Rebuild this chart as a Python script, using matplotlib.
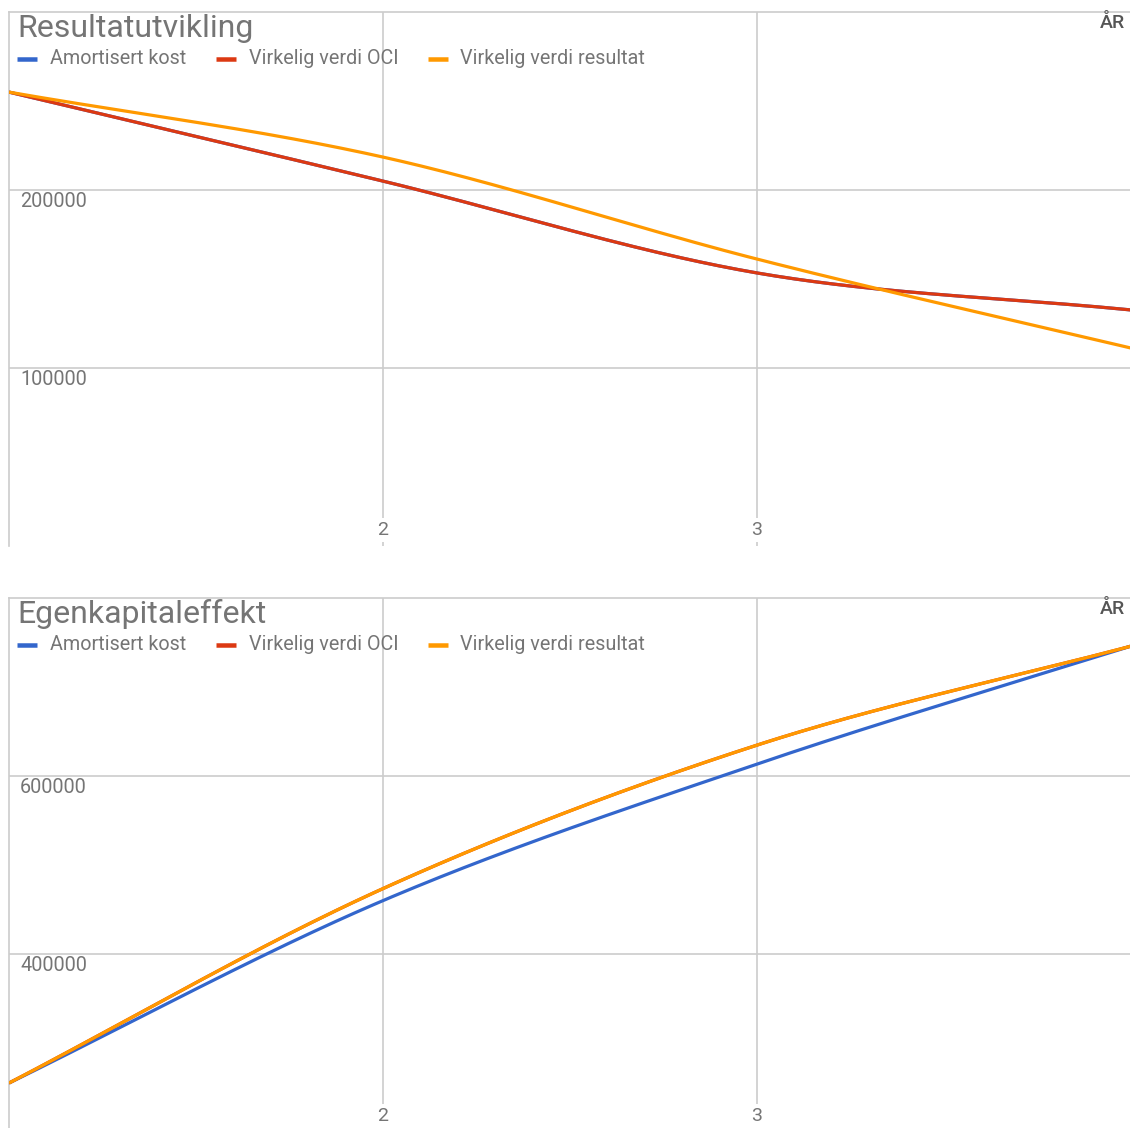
import numpy as np
import matplotlib.pyplot as plt
from matplotlib.transforms import offset_copy

plt.rcParams['font.family'] = ['Roboto', 'DejaVu Sans']

# år på x-aksen
years = [1, 2, 3, 4]
series_names = ['Amortisert kost', 'Virkelig verdi OCI', 'Virkelig verdi resultat']
series_colors = ['#3366cc', '#dc3912', '#ff9900']

# resultatutvikling per år
resultat_amortisert = [255000, 205000, 153400, 132600]
resultat_oci = [255000, 205000, 153400, 132600]
resultat_virkelig = [255000, 218500, 161200, 111200]

# egenkapitaleffekt per år
egenkapital_amortisert = [255000, 460000, 613400, 746000]
egenkapital_oci = [255000, 473500, 634700, 745900]
egenkapital_virkelig = [255000, 473500, 634700, 745900]

GRID = '#cccccc'
TEXT = '#757575'
DPI = 100
W, H = 1130, 1128


def px(v):
    # pixels -> points
    return v * 72.0 / DPI


def smooth(xs, ys, n=80):
    '''
    Hermite curve through the points, tangents from neighbouring points.
    '''
    xs = np.asarray(xs, float)
    ys = np.asarray(ys, float)
    m = np.gradient(ys, xs)
    out_x, out_y = [], []
    for i in range(len(xs) - 1):
        t = np.linspace(0, 1, n)
        dx = xs[i + 1] - xs[i]
        h00 = 2 * t**3 - 3 * t**2 + 1
        h10 = t**3 - 2 * t**2 + t
        h01 = -2 * t**3 + 3 * t**2
        h11 = t**3 - t**2
        out_x.append(xs[i] + t * dx)
        out_y.append(h00 * ys[i] + h10 * dx * m[i] + h01 * ys[i + 1] + h11 * dx * m[i + 1])
    return np.concatenate(out_x), np.concatenate(out_y)


def draw_panel(fig, rect, title, series, ylim, ygrid):
    ax = fig.add_axes(rect)
    ax.set_xlim(1, 4)
    ax.set_ylim(*ylim)
    ax.set_xticks([])
    ax.set_yticks([])
    for side in ['right', 'bottom']:
        ax.spines[side].set_visible(False)
    for side in ['left', 'top']:
        ax.spines[side].set_color(GRID)
        ax.spines[side].set_linewidth(1.2)

    # gridlines
    for v in ygrid:
        ax.axhline(v, color=GRID, lw=1.2, zorder=0)
    for x in [2, 3]:
        ax.axvline(x, color=GRID, lw=1.2, zorder=0)

    # lines, drawn in series order
    for vals, color in zip(series, series_colors):
        sx, sy = smooth(years, vals)
        ax.plot(sx, sy, color=color, lw=px(3.2), solid_capstyle='butt', zorder=3)

    # y labels sit just under their gridline
    for v in ygrid:
        ax.annotate(str(v), xy=(0, v), xycoords=('axes fraction', 'data'),
                    xytext=(px(11), px(-2)), textcoords='offset points',
                    ha='left', va='top', fontsize=14.3, color=TEXT, zorder=4)

    # x labels inside the plot near the bottom edge
    for x in [2, 3]:
        ax.annotate(str(x), xy=(x, 0), xycoords=('data', 'axes fraction'),
                    xytext=(0, px(16)), textcoords='offset points',
                    ha='center', va='center', fontsize=14, color=TEXT, zorder=4,
                    bbox=dict(boxstyle='square,pad=0.15', fc='white', ec='none'))

    ax.annotate(title, xy=(0, 1), xycoords='axes fraction',
                xytext=(px(8), px(-25)), textcoords='offset points',
                ha='left', va='baseline', fontsize=23, color=TEXT, zorder=5)

    ax.annotate('ÅR', xy=(1, 1), xycoords='axes fraction',
                xytext=(px(-6), px(-11)), textcoords='offset points',
                ha='right', va='center', fontsize=14, color='#555555',
                fontweight='medium', zorder=5)

    # legend row: short coloured bar, then the series name
    legend_x = [(8, 41), (207, 240), (419, 451)]
    bar_len = 20 / (rect[2] * W)
    for (mx, tx), name, color in zip(legend_x, series_names, series_colors):
        line_tr = offset_copy(ax.transAxes, fig=fig, x=px(mx), y=px(-47), units='points')
        ax.plot([0, bar_len], [1, 1], color=color, lw=px(4.5),
                solid_capstyle='butt', transform=line_tr, clip_on=False, zorder=5)
        ax.annotate(name, xy=(0, 1), xycoords='axes fraction',
                    xytext=(px(tx), px(-47)), textcoords='offset points',
                    ha='left', va='center', fontsize=14.2, color=TEXT, zorder=5)
    return ax


fig = plt.figure(figsize=(W / DPI, H / DPI), dpi=DPI)

left = 9 / W
width = (W - 9 + 1) / W
height = 534 / H

draw_panel(fig, [left, (H - 546) / H, width, height], 'Resultatutvikling',
           [resultat_amortisert, resultat_oci, resultat_virkelig],
           (0, 300000), [100000, 200000])

draw_panel(fig, [left, (H - 1132) / H, width, height], 'Egenkapitaleffekt',
           [egenkapital_amortisert, egenkapital_oci, egenkapital_virkelig],
           (200000, 800000), [400000, 600000])

fig.savefig('out.png', dpi=DPI)
